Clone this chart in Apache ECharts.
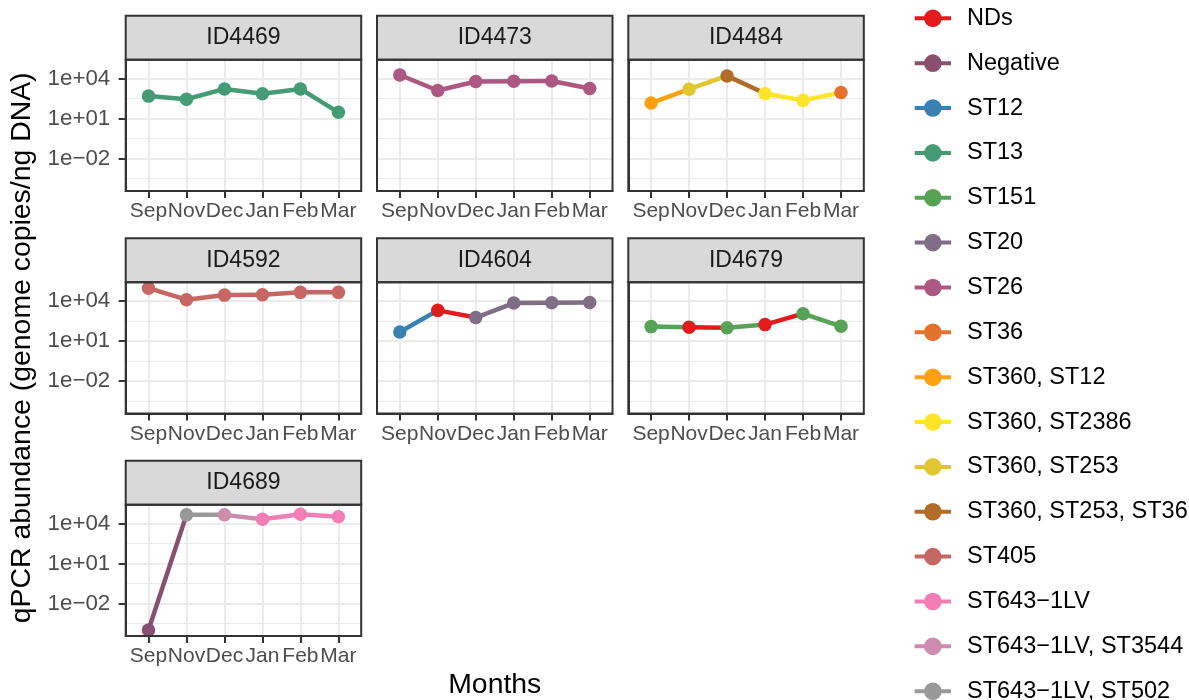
<!DOCTYPE html>
<html>
<head>
<meta charset="utf-8">
<script src="https://cdn.jsdelivr.net/npm/echarts@6/dist/echarts.min.js"></script>
<style>
  html, body { margin: 0; padding: 0; background: #ffffff; }
  #chart { width: 1189px; height: 700px; }
</style>
</head>
<body>
<div id="chart"></div>
<script>
// ---- data ----------------------------------------------------------------
const months = ['Sep', 'Nov', 'Dec', 'Jan', 'Feb', 'Mar'];
const panelIds = ['ID4469', 'ID4473', 'ID4484', 'ID4592', 'ID4604', 'ID4679', 'ID4689'];

const sequenceTypes = [
  'NDs', 'Negative', 'ST12', 'ST13', 'ST151', 'ST20', 'ST26', 'ST36',
  'ST360, ST12', 'ST360, ST2386', 'ST360, ST253', 'ST360, ST253, ST36',
  'ST405', 'ST643−1LV', 'ST643−1LV, ST3544', 'ST643−1LV, ST502'
];
const typeColors = [
  '#E41A1C', '#884F6F', '#3881B1', '#449B76', '#57A256', '#7F6E85', '#AD5882', '#E4722C',
  '#FFA10E', '#FFE529', '#E1C72F', '#B26C2A', '#C66764', '#F27EB5', '#CB8CAD', '#999999'
];

// qPCR abundance (genome copies/ng DNA), one value per month
const id4469Abundance = [480, 280, 1660, 710, 1660, 29];
const id4473Abundance = [18600, 1260, 6000, 6300, 6600, 1780];
const id4484Abundance = [145, 1580, 15800, 760, 230, 890];
const id4592Abundance = [93000, 12600, 28000, 30000, 45000, 45000];
const id4604Abundance = [48, 2000, 575, 7100, 7400, 7900];
const id4679Abundance = [120, 107, 100, 170, 1120, 126];
const id4689Abundance = [0.0001, 45000, 45000, 21000, 50000, 32000];

// sequence type found in each month
const id4469Types = ['ST13', 'ST13', 'ST13', 'ST13', 'ST13', 'ST13'];
const id4473Types = ['ST26', 'ST26', 'ST26', 'ST26', 'ST26', 'ST26'];
const id4484Types = ['ST360, ST12', 'ST360, ST253', 'ST360, ST253, ST36', 'ST360, ST2386', 'ST360, ST2386', 'ST36'];
const id4592Types = ['ST405', 'ST405', 'ST405', 'ST405', 'ST405', 'ST405'];
const id4604Types = ['ST12', 'NDs', 'ST20', 'ST20', 'ST20', 'ST20'];
const id4679Types = ['ST151', 'NDs', 'ST151', 'NDs', 'ST151', 'ST151'];
const id4689Types = ['Negative', 'ST643−1LV, ST502', 'ST643−1LV, ST3544', 'ST643−1LV', 'ST643−1LV', 'ST643−1LV'];

// y axis breaks (log10 scale)
const yBreaks = [1e-2, 1e1, 1e4];
const yBreakLabels = ['1e−02', '1e+01', '1e+04'];

// ---- assembly --------------------------------------------------------------
const panels = [
  { id: panelIds[0], values: id4469Abundance, types: id4469Types },
  { id: panelIds[1], values: id4473Abundance, types: id4473Types },
  { id: panelIds[2], values: id4484Abundance, types: id4484Types },
  { id: panelIds[3], values: id4592Abundance, types: id4592Types },
  { id: panelIds[4], values: id4604Abundance, types: id4604Types },
  { id: panelIds[5], values: id4679Abundance, types: id4679Types },
  { id: panelIds[6], values: id4689Abundance, types: id4689Types }
];
const colorOf = t => typeColors[sequenceTypes.indexOf(t)];

// shared log10 range with 5% padding on each side
const allLogs = panels.flatMap(p => p.values.map(v => Math.log10(v)));
const lo = Math.min(...allLogs), hi = Math.max(...allLogs);
const pad = (hi - lo) * 0.05;
const yMin = lo - pad, yMax = hi + pad;
const majorLogs = yBreaks.map(v => Math.log10(v));
const step = majorLogs[1] - majorLogs[0];
const minorLogs = [majorLogs[0] - step / 2]
  .concat(majorLogs.map(m => m + step / 2))
  .filter(v => v > yMin && v < yMax);

// panel geometry
const FONT = '"Liberation Sans", Arial, Helvetica, sans-serif';
const colLeft = [125.7, 377.0, 628.3];
const panelW = 235.5;
const stripTop0 = 15.7, rowPitch = 222.5, stripH = 44, panelH = 131.3;
const cellOf = p => {
  const r = Math.floor(p / 3), c = p % 3;
  const stripTop = stripTop0 + rowPitch * r;
  return { r, c, left: colLeft[c], stripTop, top: stripTop + stripH };
};
const frameLine = { color: '#333333', width: 2 };

const grids = [], xAxes = [], yAxes = [], series = [], graphics = [];

// legend entries: one empty series per sequence type
sequenceTypes.forEach((name, k) => {
  series.push({
    type: 'line', name, data: [], xAxisIndex: 0, yAxisIndex: 0,
    symbol: 'circle', symbolSize: 13,
    itemStyle: { color: typeColors[k], opacity: 1 },
    lineStyle: { color: typeColors[k], width: 4 }
  });
});

panels.forEach((panel, p) => {
  const cell = cellOf(p);
  grids.push({
    left: cell.left, top: cell.top, width: panelW, height: panelH,
    containLabel: false, outerBoundsMode: 'none',
    show: true, backgroundColor: '#ffffff', borderWidth: 0
  });

  xAxes.push({
    gridIndex: p, type: 'value', min: -0.6, max: 5.6, position: 'bottom',
    axisLine: { show: true, onZero: false, lineStyle: frameLine },
    axisTick: {
      show: true, inside: false, customValues: [0, 1, 2, 3, 4, 5], length: 7,
      lineStyle: frameLine
    },
    axisLabel: {
      show: true, customValues: [0, 1, 2, 3, 4, 5], showMinLabel: true, showMaxLabel: true,
      hideOverlap: false,
      formatter: v => months[Math.round(v)],
      color: '#4D4D4D', fontSize: 21, fontFamily: FONT, margin: 10
    },
    splitLine: { show: true, lineStyle: { color: '#EBEBEB', width: 2 } }
  });

  const showY = cell.c === 0;
  // major breaks
  yAxes.push({
    gridIndex: p, type: 'value', min: yMin, max: yMax, position: 'left',
    axisLine: { show: true, onZero: false, lineStyle: frameLine },
    axisTick: {
      show: showY, inside: false, customValues: majorLogs, length: 7,
      lineStyle: frameLine
    },
    axisLabel: {
      show: showY, customValues: majorLogs, showMinLabel: true, showMaxLabel: true,
      formatter: v => {
        const k = majorLogs.findIndex(m => Math.abs(m - v) < 1e-6);
        return k >= 0 ? yBreakLabels[k] : '';
      },
      color: '#4D4D4D', fontSize: 22.3, fontFamily: FONT, margin: 15.5
    },
    splitLine: { show: true, lineStyle: { color: '#EBEBEB', width: 2 } }
  });

  // line segments, each coloured by the type at its starting month
  const logs = panel.values.map(v => Math.log10(v));
  for (let i = 0; i < logs.length - 1; i++) {
    series.push({
      type: 'line', name: panel.types[i],
      xAxisIndex: p, yAxisIndex: p,
      data: [[i, logs[i]], [i + 1, logs[i + 1]]],
      symbol: 'none', showSymbol: false, silent: true, clip: false, z: 2,
      lineStyle: { color: colorOf(panel.types[i]), width: 4.5, opacity: 1 }
    });
  }
  // points
  series.push({
    type: 'scatter', name: panel.id,
    xAxisIndex: p, yAxisIndex: p,
    symbol: 'circle', symbolSize: 13.5, clip: false, silent: true, z: 3,
    itemStyle: { opacity: 1 },
    data: logs.map((y, i) => ({ value: [i, y], itemStyle: { color: colorOf(panel.types[i]), opacity: 1 } }))
  });

  // strip + panel frame
  graphics.push({
    type: 'rect', silent: true, z: 100,
    shape: { x: cell.left, y: cell.stripTop, width: panelW, height: stripH },
    style: { fill: '#D9D9D9', stroke: '#333333', lineWidth: 2 }
  });
  graphics.push({
    type: 'text', silent: true, z: 101,
    x: cell.left + panelW / 2, y: cell.stripTop + stripH / 2,
    style: {
      text: panel.id, fill: '#1A1A1A', fontSize: 23, fontFamily: FONT,
      textAlign: 'center', textVerticalAlign: 'middle', verticalAlign: 'middle'
    }
  });
  graphics.push({
    type: 'rect', silent: true, z: 100,
    shape: { x: cell.left, y: cell.top, width: panelW, height: panelH },
    style: { fill: null, stroke: '#333333', lineWidth: 2 }
  });
});

// minor breaks: one extra hidden y axis per panel
panels.forEach((panel, p) => {
  yAxes.push({
    gridIndex: p, type: 'value', min: yMin, max: yMax, position: 'left',
    axisLine: { show: false, onZero: false },
    axisTick: { show: false, customValues: minorLogs },
    axisLabel: { show: false, customValues: minorLogs },
    splitLine: { show: true, lineStyle: { color: '#EBEBEB', width: 1 } }
  });
});

// axis titles
const firstTop = cellOf(0).top;
const lastBottom = cellOf(6).top + panelH;
graphics.push({
  type: 'text', silent: true, z: 101,
  x: 22, y: (firstTop + lastBottom) / 2, rotation: Math.PI / 2,
  style: {
    text: 'qPCR abundance (genome copies/ng DNA)', fill: '#000000',
    fontSize: 28.4, fontFamily: FONT,
    textAlign: 'center', textVerticalAlign: 'middle', verticalAlign: 'middle'
  }
});
graphics.push({
  type: 'text', silent: true, z: 101,
  x: (colLeft[0] + colLeft[2] + panelW) / 2, y: 685,
  style: {
    text: 'Months', fill: '#000000', fontSize: 28.4, fontFamily: FONT,
    textAlign: 'center', textVerticalAlign: 'middle', verticalAlign: 'middle'
  }
});

const chart = echarts.init(document.getElementById('chart'), null, { renderer: 'canvas' });
chart.setOption({
  animation: false,
  backgroundColor: '#ffffff',
  textStyle: { fontFamily: FONT },
  grid: grids,
  xAxis: xAxes,
  yAxis: yAxes,
  legend: {
    data: sequenceTypes,
    orient: 'vertical', left: 912.7, top: 6.3, height: 1200, padding: 0,
    itemWidth: 36.3, itemHeight: 22, itemGap: 20.86,
    selectedMode: false,
    lineStyle: { width: 4 },
    itemStyle: { opacity: 1 },
    textStyle: {
      color: '#000000', fontSize: 23.5, fontFamily: FONT, lineHeight: 24,
      padding: [0, 0, 0, 11]
    }
  },
  graphic: { elements: graphics },
  series
});
</script>
</body>
</html>
